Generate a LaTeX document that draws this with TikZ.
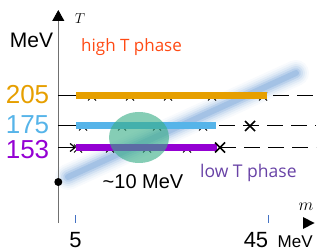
\documentclass[tikz,border=0pt]{standalone}
\usepackage{fontspec}
\setmainfont{Liberation Sans}
\newfontfamily\osans{Open Sans}
\usetikzlibrary{arrows.meta}
\definecolor{corange}{HTML}{E69F00}
\definecolor{cblue}{HTML}{56B4E9}
\definecolor{cpurple}{HTML}{9400D3}
\definecolor{cgreen}{HTML}{3AAE88}
\definecolor{cband}{HTML}{6F9FD6}
\definecolor{chigh}{HTML}{FF4A14}
\definecolor{clow}{HTML}{6842A6}
\definecolor{ctick}{HTML}{4472C4}
\definecolor{caxis}{HTML}{707070}
\begin{document}
\begin{tikzpicture}[x=1pt,y=-1pt,
  bar/.style={line width=6.5pt},
  dashline/.style={line width=1.1pt, dash pattern=on 16pt off 8pt},
  tickline/.style={line width=1.2pt, black},
  smallx/.style={line width=0.8pt, black},
  bigx/.style={line width=1.5pt, black},
  mticks/.style={line width=1pt, ctick},
  lab/.style={inner sep=0pt, font=\fontsize{26}{26}\selectfont}]
\useasboundingbox (0,0) rectangle (332,251);

% coordinates
\coordinate (yb) at (58.3,223);
\coordinate (yt) at (58.3,10);
\coordinate (o1) at (58.3,95.5);  \coordinate (o2) at (76,95.5);  \coordinate (o3) at (267,95.5);
\coordinate (o4) at (273,95.5);   \coordinate (o5) at (316,95.5);
\coordinate (b1) at (58.3,125.5); \coordinate (b2) at (76,125.5); \coordinate (b3) at (216,125.5);
\coordinate (b4) at (219,125.5);  \coordinate (b5) at (316,125.5);
\coordinate (p1) at (58.3,147.5); \coordinate (p2) at (76,147.5); \coordinate (p3) at (217,147.5);
\coordinate (p4) at (220,147.5);  \coordinate (p5) at (316,147.5);
\coordinate (band1) at (68,177);
\coordinate (band2) at (296,73);

% blurred band
\foreach \w/\o in {26/0.05,22/0.07,18/0.1,14/0.15,10/0.22,6/0.3}
  \draw[cband, line width=\w pt, opacity=\o, line cap=round] (band1) -- (band2);

% vertical axis
\draw[caxis, line width=0.9pt, -{Triangle[length=11pt,width=12pt,black]}] (yb) -- (yt);
\node[inner sep=0pt, font=\fontsize{14}{14}\selectfont] (Tlab) at (80,19) {$T$};
\node[inner sep=0pt, font=\fontsize{21}{21}\selectfont] (mev) at (31.5,40.5) {MeV};

% left ticks
\draw[tickline] (o1) -- (o2);
\draw[tickline] (b1) -- (b2);
\draw[tickline, -{Straight Barb[length=5pt,width=8pt]}] (p1) -- (p2);

% small crosses under bars
\foreach \cx/\cy in {92/96.5,130/96.5,168/96.5,212/96.5,263/96.5,
                     83/126.5,122/126.5,157/126.5,203/126.5,
                     78/148.5,110/148.5,147/148.5,187/148.5}
  \draw[smallx] (\cx-4,\cy-4) -- (\cx+4,\cy+4) (\cx-4,\cy+4) -- (\cx+4,\cy-4);

% bars
\draw[bar, corange] (o2) -- (o3);
\draw[bar, cblue] (b2) -- (b3);
\draw[bar, cpurple, line width=7.5pt] (p2) -- (p3);

% dashed continuations
\draw[dashline] (o4) -- (o5);
\draw[dashline] (b4) -- (b5);
\draw[dashline] (p4) -- (p5);

% big crosses
\draw[bigx] (245,121) -- (255,131) (245,131) -- (255,121);
\draw[bigx] (215,142.5) -- (225,152.5) (215,152.5) -- (225,142.5);

% green blob
\fill[cgreen, opacity=0.62] (139,137.5) ellipse [x radius=30, y radius=25.5];

% dot
\fill[black] (58.3,182) circle [radius=4];
\node[inner sep=0pt, anchor=base west, font=\fontsize{20}{20}\selectfont] (ten) at (102.5,188) {\textasciitilde 10 MeV};

% left labels
\node[lab, text=corange] (l205) at (27.5,94.5) {205};
\node[lab, text=cblue] (l175) at (27.5,124.5) {175};
\node[lab, text=cpurple] (l153) at (27.5,149.5) {153};

% phase labels
\node[inner sep=0pt, anchor=base west, text=chigh, font=\osans\fontsize{17}{17}\selectfont] (high) at (81,52) {high T phase};
\node[inner sep=0pt, anchor=base west, text=clow, font=\osans\fontsize{17.5}{17.5}\selectfont] (low) at (200,177) {low T phase};

% m axis
\coordinate (mt1) at (75,215); \coordinate (mt2) at (75,222.5);
\coordinate (mt3) at (268,215); \coordinate (mt4) at (268,222.5);
\draw[mticks] (mt1) -- (mt2);
\draw[mticks] (mt3) -- (mt4);
\fill[black] (303,217) -- (314.5,223) -- (303,229) -- cycle;
\node[inner sep=0pt, font=\fontsize{16}{16}\selectfont] (mlab) at (306,207) {$m$};
\node[inner sep=0pt, anchor=base, font=\fontsize{22}{22}\selectfont] (five) at (75.5,247) {5};
\node[inner sep=0pt, anchor=base, font=\fontsize{22}{22}\selectfont] (ff) at (256,247) {45};
\node[inner sep=0pt, anchor=base west, font=\fontsize{17}{17}\selectfont] (mev2) at (277.5,247) {MeV};
\end{tikzpicture}
\end{document}
